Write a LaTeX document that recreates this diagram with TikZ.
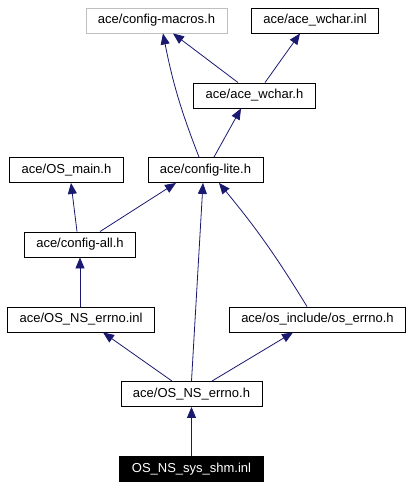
\documentclass[tikz,border=0pt]{standalone}
\usepackage{fontspec}
\setmainfont{Liberation Sans}
\usepackage{tikz}
\usetikzlibrary{arrows.meta, positioning}
\definecolor{edgeblue}{RGB}{25,25,112}
\definecolor{framegray}{RGB}{191,191,191}

\begin{document}
\begin{tikzpicture}[
        x=1pt, y=-1pt,
        file/.style={rectangle, draw=black, line width=0.9pt, fill=white, inner xsep=12pt, minimum height=25pt, font=\fontsize{13}{15}\selectfont},
        graybox/.style={file, draw=framegray},
        current/.style={file, fill=black, text=white},
        arrow/.style={-{Triangle[length=11pt, width=9pt]}, draw=edgeblue, line width=0.8pt}
    ]
    \useasboundingbox (0,0) rectangle (413,488);

    % 文件
    \node[graybox] (macros) at (156.5,20.5) {ace/config-macros.h};
    \node[file] (wcharinl) at (315,20.5) {ace/ace\_wchar.inl};
    \node[file] (wcharh) at (254.5,95.5) {ace/ace\_wchar.h};
    \node[file] (osmain) at (66.5,170) {ace/OS\_main.h};
    \node[file] (lite) at (205.5,170) {ace/config-lite.h};
    \node[file] (all) at (80,244.5) {ace/config-all.h};
    \node[file] (errnoinl) at (81,319.5) {ace/OS\_NS\_errno.inl};
    \node[file] (oserrno) at (317.5,319.5) {ace/os\_include/os\_errno.h};
    \node[file] (errnoh) at (191.5,394) {ace/OS\_NS\_errno.h};
    \node[current] (shm) at (191.5,469) {OS\_NS\_sys\_shm.inl};

    % 依赖
    \draw[arrow] ([xshift=-16.5pt]wcharh.north) -- ([xshift=16.5pt]macros.south);
    \draw[arrow] ([xshift=10.5pt]wcharh.north) -- ([xshift=-15pt]wcharinl.south);
    \draw[arrow] ([xshift=-6.5pt]lite.north) to[bend left=5] ([xshift=6.5pt]macros.south);
    \draw[arrow] ([xshift=8.5pt]lite.north) -- ([xshift=-13.5pt]wcharh.south);
    \draw[arrow] ([xshift=-3pt]all.north) -- ([xshift=4.5pt]osmain.south);
    \draw[arrow] ([xshift=20pt]all.north) -- ([xshift=-29.5pt]lite.south);
    \draw[arrow] ([xshift=-1pt]errnoinl.north) -- (all.south);
    \draw[arrow] ([xshift=-10.5pt]oserrno.north) to[bend right=4] ([xshift=13.5pt]lite.south);
    \draw[arrow] (errnoh.north) -- ([xshift=-2.5pt]lite.south);
    \draw[arrow] ([xshift=-19.5pt]errnoh.north) -- ([xshift=22pt]errnoinl.south);
    \draw[arrow] ([xshift=20.5pt]errnoh.north) -- ([xshift=-24.5pt]oserrno.south);
    \draw[arrow] (shm) -- (errnoh);

\end{tikzpicture}
\end{document}
